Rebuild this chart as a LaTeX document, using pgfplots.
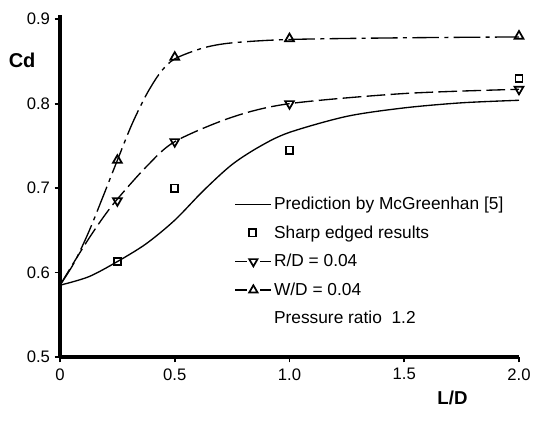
\documentclass[border=0pt]{standalone}
\usepackage{pgfplots}
\pgfplotsset{compat=1.18}
\usepackage{fontspec}
\setmainfont{Liberation Sans}
\usetikzlibrary{plotmarks}
\pgfplotsset{
  markleg/.style={legend image code/.code={\draw[##1] plot coordinates {(0.45cm,0cm)};}},
  gapleg/.style={legend image code/.code={%
    \draw[##1] (0cm,0cm) -- (0.3cm,0cm);
    \draw[##1] (0.65cm,0cm) -- (0.95cm,0cm);
    \draw[##1] plot coordinates {(0.475cm,0cm)};}},
}

\begin{document}
\begin{tikzpicture}[x=1pt,y=1pt]
\path[use as bounding box] (0,0) rectangle (399.75,317.25);
\begin{axis}[
    at={(45pt,49.5pt)}, anchor=south west,
    scale only axis,
    width=344.25pt, height=256.5pt,
    xmin=0, xmax=2.0, ymin=0.5, ymax=0.905,
    axis lines=left,
    x axis line style={line width=2.6pt, -},
    y axis line style={line width=2.4pt, -},
    xtick={0,0.5,1.0,1.5,2.0}, xticklabels={0,0.5,1.0,1.5,2.0},
    ytick={0.5,0.6,0.7,0.8,0.9}, yticklabels={0.5,0.6,0.7,0.8,0.9},
    tick align=outside, major tick length=4pt,
    tick style={line width=1.3pt, black},
    ticklabel style={font=\fontsize{12.5}{14}\selectfont},
    xticklabel style={yshift=-1pt},
    clip=false,
    legend cell align=left,
    legend style={draw=none, fill=none, at={(axis cs:0.76,0.692)}, anchor=north west,
        font=\fontsize{13}{15}\selectfont, row sep=7.5pt, inner sep=0pt,
        nodes={inner sep=1.5pt}},
    legend image code/.code={\draw[#1] (0cm,0cm) -- (0.95cm,0cm);},
]
% prediction curve
\addplot[black, line width=1pt, smooth, tension=0.5] coordinates {
 (0,0.585) (0.125,0.595) (0.25,0.613) (0.375,0.634) (0.5,0.662) (0.625,0.697)
 (0.75,0.728) (0.875,0.750) (1.0,0.766) (1.25,0.785) (1.5,0.795) (1.75,0.801) (2.0,0.804)
};
\addlegendentry{Prediction by McGreenhan [5]}
% sharp edged results
\addplot[black, only marks, mark=square, mark size=2.7pt, line width=1.3pt, markleg] coordinates {
 (0.25,0.613) (0.5,0.700) (1.0,0.745) (2.0,0.830)
};
\addlegendentry{Sharp edged results}
% R/D curve
\addplot[black, line width=1pt, smooth, tension=0.5, dash pattern=on 14pt off 4pt, forget plot] coordinates {
 (0,0.585) (0.0625,0.613) (0.125,0.640) (0.1875,0.665) (0.25,0.687) (0.375,0.725)
 (0.5,0.755) (0.75,0.784) (1.0,0.800) (1.5,0.812) (2.0,0.817)
};
\addplot[black, only marks, mark=triangle, mark size=3.8pt, line width=1.3pt,
  mark options={rotate=180}, forget plot] coordinates {
 (0.25,0.685) (0.5,0.755) (1.0,0.800) (2.0,0.817)
};
\addlegendimage{black, line width=1pt, solid, mark=triangle, mark size=3.6pt, mark options={rotate=180, solid, line width=1.3pt}, gapleg}
\addlegendentry{R/D = 0.04}
% W/D curve
\addplot[black, line width=1pt, smooth, tension=0.5, dash pattern=on 20pt off 4pt on 3pt off 4pt, forget plot] coordinates {
 (0,0.585) (0.0625,0.612) (0.125,0.648) (0.1875,0.690) (0.25,0.733) (0.3125,0.775)
 (0.375,0.810) (0.4375,0.837) (0.5,0.853) (0.625,0.866) (0.75,0.872) (1.0,0.876)
 (1.5,0.878) (2.0,0.879)
};
\addplot[black, only marks, mark=triangle, mark size=3.8pt, line width=1.3pt, forget plot] coordinates {
 (0.25,0.733) (0.5,0.855) (1.0,0.877) (2.0,0.880)
};
\addlegendimage{black, line width=1pt, solid, mark=triangle, mark size=3.6pt, mark options={solid, line width=1.3pt}, gapleg}
\addlegendentry{W/D = 0.04}
\addlegendimage{empty legend}
\addlegendentry{Pressure ratio\ \ 1.2}
\node[font=\fontsize{15}{17}\selectfont\bfseries] at (axis cs:-0.165,0.851) {Cd};
\node[font=\fontsize{14}{16}\selectfont\bfseries] at (axis cs:1.71,0.452) {L/D};
\end{axis}
\end{tikzpicture}
\end{document}
